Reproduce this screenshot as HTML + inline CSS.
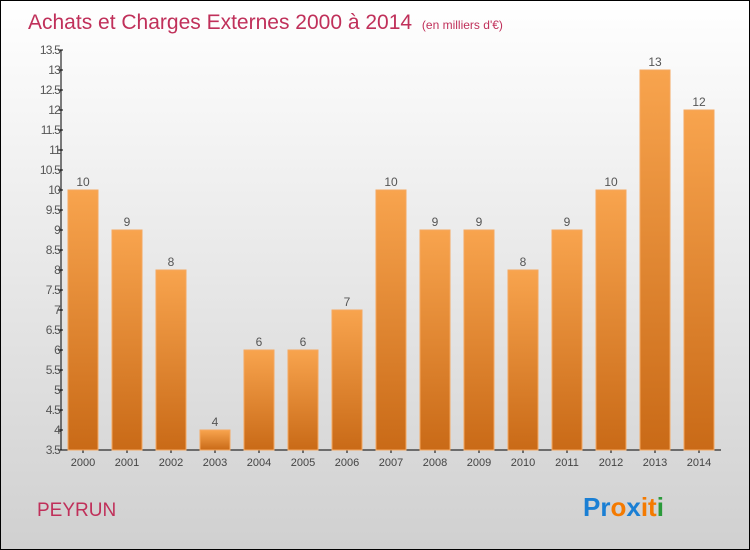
<!DOCTYPE html>
<html><head><meta charset="utf-8"><style>
body{margin:0}
#wrap{position:relative;width:748px;height:548px;border:1px solid #000;background:linear-gradient(#fff,#d0d0d0);font-family:"Liberation Sans",sans-serif;overflow:hidden}
</style></head><body>
<div id="wrap">
<svg id="chart" width="748" height="548">
<defs><linearGradient id="bg" x1="0" y1="0" x2="0" y2="1"><stop offset="0" stop-color="#f8a44e"/><stop offset="1" stop-color="#c96a17"/></linearGradient></defs>
<text x="27" y="28" font-size="21" fill="#c0305a">Achats et Charges Externes 2000 à 2014 <tspan font-size="12" dx="4">(en milliers d'€)</tspan></text>
<text x="36" y="515" font-size="19" fill="#c0305a">PEYRUN</text>
<g font-size="26" font-weight="bold">
<text x="582" y="515"><tspan fill="#1a7fd4">Pr</tspan><tspan fill="#f47a00">o</tspan><tspan fill="#1a7fd4">x</tspan><tspan fill="#f47a00">it</tspan><tspan fill="#2a9a3a">i</tspan></text></g>
<g id="axes"></g><g id="bars"></g>
</svg></div>
<script>
const years=["2000","2001","2002","2003","2004","2005","2006","2007","2008","2009","2010","2011","2012","2013","2014"];
const values=[10,9,8,4,6,6,7,10,9,9,8,9,10,13,12];
const ticks=[3.5,4,4.5,5,5.5,6,6.5,7,7.5,8,8.5,9,9.5,10,10.5,11,11.5,12,12.5,13,13.5];
const NS="http://www.w3.org/2000/svg";
const x0=60,x1=720,yTop=49,yBot=449,vMin=3.5,vMax=13.5;
const y=v=>yBot-(v-vMin)/(vMax-vMin)*(yBot-yTop);
const step=(x1-x0)/years.length;
const xc=i=>x0+step*(i+0.5);
function mk(t,a,p){const e=document.createElementNS(NS,t);for(const k in a)e.setAttribute(k,a[k]);p.appendChild(e);return e;}
const ax=document.getElementById('axes'),bs=document.getElementById('bars');
let l=mk('line',{x1:x0,y1:yTop,x2:x0,y2:yBot,stroke:'#000'},ax);


l=mk('line',{x1:x0,y1:yBot,x2:x1,y2:yBot,stroke:'#000'},ax);


ticks.forEach(t=>{mk('line',{x1:x0-3,x2:x0+2,y1:y(t),y2:y(t),stroke:'#000'},ax);
const tx=mk('text',{x:x0-1,y:y(t)+4,'text-anchor':'end','font-size':12,fill:'#555','letter-spacing':'-0.8'},ax);tx.textContent=t;

});
years.forEach((yr,i)=>{
mk('line',{x1:xc(i),x2:xc(i),y1:yBot,y2:yBot+3,stroke:'#000'},ax);
const tx=mk('text',{x:xc(i),y:yBot+16,'text-anchor':'middle','font-size':11,fill:'#444'},ax);tx.textContent=yr;


const r=mk('rect',{x:xc(i)-15,y:y(values[i]),width:30,height:yBot-y(values[i]),fill:'url(#bg)',stroke:'#f5a860','stroke-width':1},bs);


const v=mk('text',{x:xc(i),y:y(values[i])-4,'text-anchor':'middle','font-size':12,fill:'#555'},bs);v.textContent=values[i];


});
</script>
</body></html>
